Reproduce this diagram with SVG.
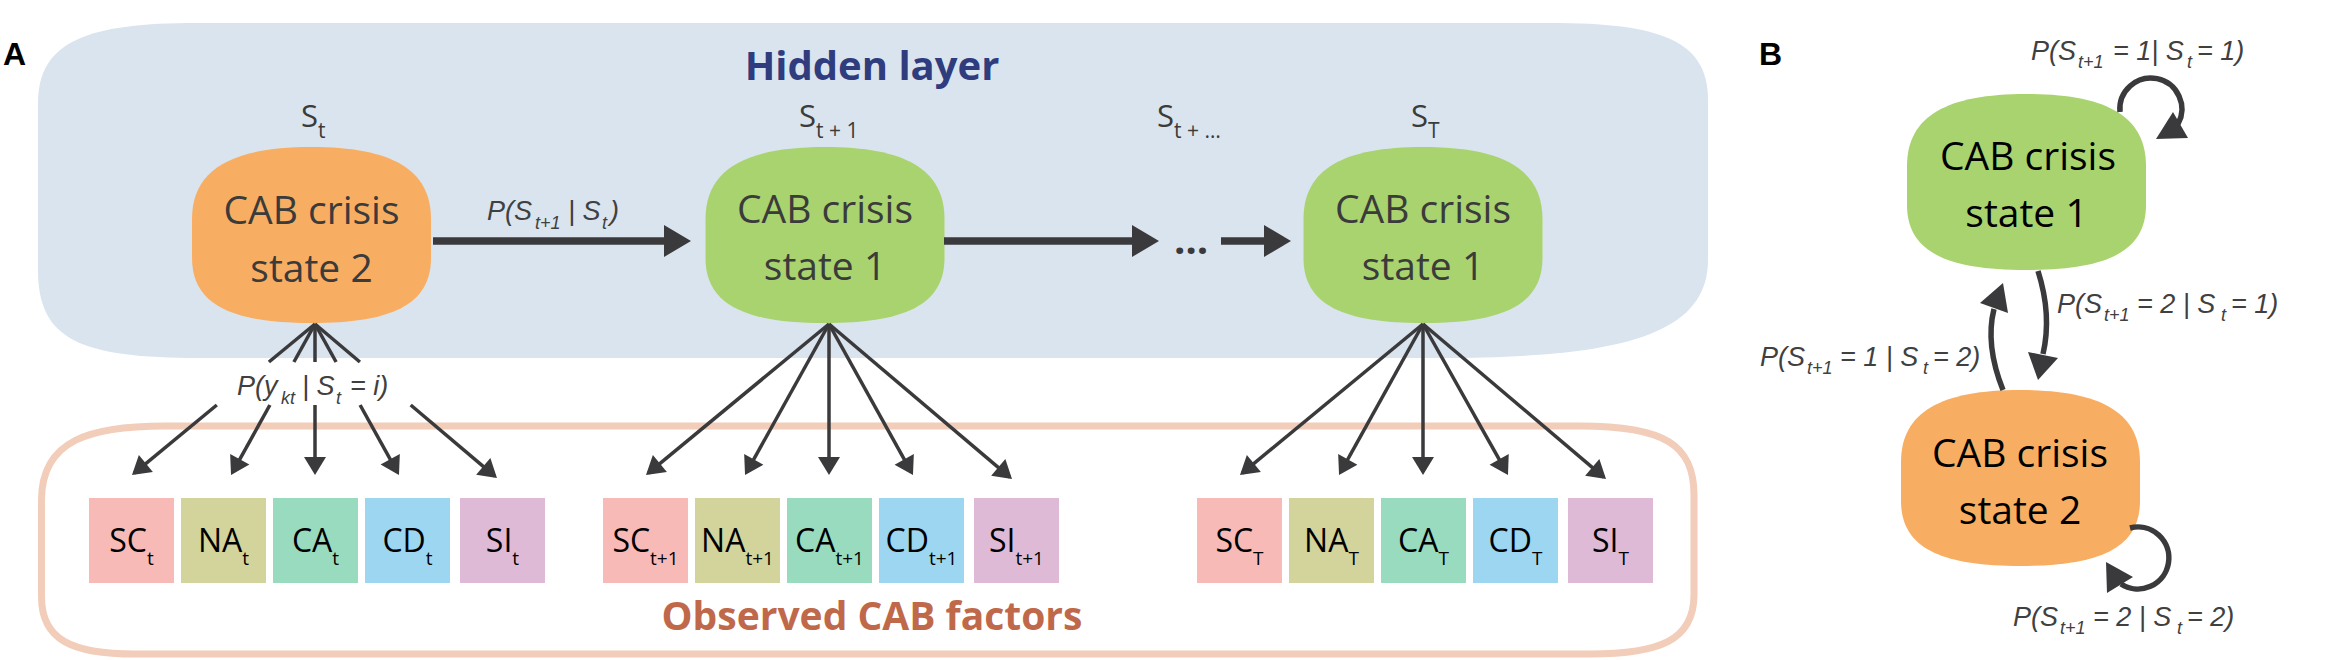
<svg xmlns="http://www.w3.org/2000/svg" xmlns:xlink="http://www.w3.org/1999/xlink" width="2343" height="660" viewBox="0 0 2343 660">
<style>
.panel{font-family:"Liberation Sans",Arial,sans-serif;font-weight:bold;font-size:32px;fill:#000}
.title{font-family:"Open Sans",sans-serif;font-weight:bold;font-size:40px;text-anchor:middle}
.nt{font-family:"Open Sans",sans-serif;font-size:39px;text-anchor:middle}
.ntA{fill:#3b3b3b}
.ntB{fill:#000}
.sl{font-family:"Open Sans",sans-serif;font-size:31px;fill:#3b3b3b}
.sls{font-size:21px}
.lab{font-family:"Liberation Sans",Arial,sans-serif;font-style:italic;font-size:27px;fill:#404040}
.sub{font-size:18px}
.bt{font-family:"Open Sans",sans-serif;font-size:32px;fill:#000;text-anchor:middle}
.bs{font-size:19px}
.fan{stroke:#3a3a3c;stroke-width:3.5;fill:none;marker-end:url(#smallHead)}
.main{stroke:#3a3a3c;stroke-width:7.5;fill:none;marker-end:url(#bigHead)}
.curve{stroke:#3a3a3c;stroke-width:5.5;fill:none}
.head{fill:#3a3a3c}
.sc{fill:#f8bab6}.na{fill:#d3d39c}.ca{fill:#99dbbe}.cd{fill:#9dd6f0}.si{fill:#dfbad7}
</style>
<defs>
<path id="blob" d="M0,72 C0,22 40,0 119.5,0 C199,0 239,22 239,72 L239,111 C239,158 199,176 119.5,176 C40,176 0,158 0,111 Z"/>
<marker id="bigHead" markerUnits="userSpaceOnUse" markerWidth="28" markerHeight="32" refX="6" refY="16" orient="auto" overflow="visible"><path d="M0,0 L27,16 L0,32 Z" fill="#3a3a3c"/></marker>
<marker id="smallHead" markerUnits="userSpaceOnUse" markerWidth="20" markerHeight="22" refX="15" refY="11" orient="auto" overflow="visible"><path d="M0,0 L18,11 L0,22 Z" fill="#3a3a3c"/></marker>
</defs>
<rect width="2343" height="660" fill="#fff"/>

<g id="panel-labels">
<text class="panel" x="3" y="65">A</text>
<text class="panel" x="1759" y="65">B</text>
</g>

<g id="hidden-layer">
<path d="M38,103 C38,40 90,23 197,23 L1550,23 C1660,23 1708,40 1708,100 L1708,260 C1708,335 1620,358 1440,358 L200,358 C80,358 38,340 38,270 Z" fill="#dae4ee"/>
<text class="title" x="872" y="80" fill="#2f3c7e">Hidden layer</text>
</g>

<g id="observed-layer">
<path d="M41.5,500 C41.5,440 90,426 165,426 L1580,426 C1665,426 1694,445 1694,495 L1694,595 C1694,640 1660,654 1590,654 L135,654 C72,654 41.5,640 41.5,597 Z" fill="none" stroke="#f2cdb9" stroke-width="7"/>
<text class="title" x="872" y="630" fill="#c0694a" style="font-size:39px">Observed CAB factors</text>
</g>

<g id="state-labels">
<text class="sl" x="301" y="127">S<tspan class="sls" dy="11">t</tspan></text>
<text class="sl" x="799" y="127">S<tspan class="sls" dy="11">t + 1</tspan></text>
<text class="sl" x="1157" y="127">S<tspan class="sls" dy="11">t + …</tspan></text>
<text class="sl" x="1411" y="127">S<tspan class="sls" dy="11">T</tspan></text>
</g>

<g id="node-A1">
<use xlink:href="#blob" x="192" y="147" fill="#f8ae62"/>
<text class="nt ntA" x="311.5" y="224">CAB crisis</text>
<text class="nt ntA" x="311.5" y="282">state 2</text>
</g>
<g id="node-A2">
<use xlink:href="#blob" x="705.5" y="147" fill="#a9d36e"/>
<text class="nt ntA" x="825" y="223">CAB crisis</text>
<text class="nt ntA" x="825" y="280">state 1</text>
</g>
<g id="node-A3">
<use xlink:href="#blob" x="1303.5" y="147" fill="#a9d36e"/>
<text class="nt ntA" x="1423" y="223">CAB crisis</text>
<text class="nt ntA" x="1423" y="280">state 1</text>
</g>

<g id="factors-t">
<rect class="sc" x="89" y="498" width="85" height="85"/>
<rect class="na" x="181" y="498" width="85" height="85"/>
<rect class="ca" x="273" y="498" width="85" height="85"/>
<rect class="cd" x="365" y="498" width="85" height="85"/>
<rect class="si" x="460" y="498" width="85" height="85"/>
<text class="bt" x="131.5" y="552">SC<tspan class="bs" dy="13">t</tspan></text>
<text class="bt" x="223.5" y="552">NA<tspan class="bs" dy="13">t</tspan></text>
<text class="bt" x="315.5" y="552">CA<tspan class="bs" dy="13">t</tspan></text>
<text class="bt" x="407.5" y="552">CD<tspan class="bs" dy="13">t</tspan></text>
<text class="bt" x="502.5" y="552">SI<tspan class="bs" dy="13">t</tspan></text>
</g>
<g id="factors-t1">
<rect class="sc" x="603" y="498" width="85" height="85"/>
<rect class="na" x="695" y="498" width="85" height="85"/>
<rect class="ca" x="787" y="498" width="85" height="85"/>
<rect class="cd" x="879" y="498" width="85" height="85"/>
<rect class="si" x="974" y="498" width="85" height="85"/>
<text class="bt" x="645.5" y="552">SC<tspan class="bs" dy="13">t+1</tspan></text>
<text class="bt" x="737.5" y="552">NA<tspan class="bs" dy="13">t+1</tspan></text>
<text class="bt" x="829.5" y="552">CA<tspan class="bs" dy="13">t+1</tspan></text>
<text class="bt" x="921.5" y="552">CD<tspan class="bs" dy="13">t+1</tspan></text>
<text class="bt" x="1016.5" y="552">SI<tspan class="bs" dy="13">t+1</tspan></text>
</g>
<g id="factors-T">
<rect class="sc" x="1197" y="498" width="85" height="85"/>
<rect class="na" x="1289" y="498" width="85" height="85"/>
<rect class="ca" x="1381" y="498" width="85" height="85"/>
<rect class="cd" x="1473" y="498" width="85" height="85"/>
<rect class="si" x="1568" y="498" width="85" height="85"/>
<text class="bt" x="1239.5" y="552">SC<tspan class="bs" dy="13">T</tspan></text>
<text class="bt" x="1331.5" y="552">NA<tspan class="bs" dy="13">T</tspan></text>
<text class="bt" x="1423.5" y="552">CA<tspan class="bs" dy="13">T</tspan></text>
<text class="bt" x="1515.5" y="552">CD<tspan class="bs" dy="13">T</tspan></text>
<text class="bt" x="1610.5" y="552">SI<tspan class="bs" dy="13">T</tspan></text>
</g>

<g id="node-B1">
<use xlink:href="#blob" x="1907" y="94" fill="#a9d36e"/>
<text class="nt ntB" x="2028" y="170">CAB crisis</text>
<text class="nt ntB" x="2026.5" y="227">state 1</text>
</g>
<g id="node-B2">
<use xlink:href="#blob" x="1901" y="390" fill="#f8ae62"/>
<text class="nt ntB" x="2020" y="467">CAB crisis</text>
<text class="nt ntB" x="2020" y="524">state 2</text>
</g>

<g id="connectors">
<line class="main" x1="433" y1="241" x2="670" y2="241"/>
<line class="main" x1="944" y1="241" x2="1138" y2="241"/>
<line class="main" x1="1221" y1="241" x2="1270" y2="241"/>
<text x="1191" y="254" text-anchor="middle" style="font-family:'Open Sans',sans-serif;font-weight:bold;font-size:40px;fill:#3a3a3c">…</text>
<text class="lab" y="220"><tspan x="487">P(S</tspan><tspan class="sub" x="535" dy="9">t+1</tspan><tspan x="568" dy="-9">| S</tspan><tspan class="sub" x="602" dy="9">t</tspan><tspan x="610" dy="-9">)</tspan></text>

<line x1="315" y1="324" x2="268.9" y2="362" stroke="#3a3a3c" stroke-width="3.5"/>
<line x1="315" y1="324" x2="293.9" y2="362" stroke="#3a3a3c" stroke-width="3.5"/>
<line x1="315" y1="324" x2="315" y2="362" stroke="#3a3a3c" stroke-width="3.5"/>
<line x1="315" y1="324" x2="336.1" y2="362" stroke="#3a3a3c" stroke-width="3.5"/>
<line x1="315" y1="324" x2="359.9" y2="362" stroke="#3a3a3c" stroke-width="3.5"/>
<line class="fan" x1="216.8" y1="405" x2="134.3" y2="473.1"/>
<line class="fan" x1="269.9" y1="405" x2="232.5" y2="472.4"/>
<line class="fan" x1="315" y1="405" x2="315" y2="472"/>
<line class="fan" x1="360.1" y1="405" x2="397.5" y2="472.4"/>
<line class="fan" x1="410.7" y1="405" x2="494.7" y2="476.1"/>
<text class="lab" y="395"><tspan x="237">P(y</tspan><tspan class="sub" x="281" dy="9">kt</tspan><tspan x="302" dy="-9">| S</tspan><tspan class="sub" x="336" dy="9">t</tspan><tspan x="350" dy="-9">= i)</tspan></text>

<line class="fan" x1="829" y1="324" x2="648.3" y2="473.1"/>
<line class="fan" x1="829" y1="324" x2="746.5" y2="472.4"/>
<line class="fan" x1="829" y1="324" x2="829" y2="472"/>
<line class="fan" x1="829" y1="324" x2="911.5" y2="472.4"/>
<line class="fan" x1="829" y1="324" x2="1009.7" y2="477.1"/>

<line class="fan" x1="1423" y1="324" x2="1242.3" y2="473.1"/>
<line class="fan" x1="1423" y1="324" x2="1340.5" y2="472.4"/>
<line class="fan" x1="1423" y1="324" x2="1423" y2="472"/>
<line class="fan" x1="1423" y1="324" x2="1506.5" y2="472.4"/>
<line class="fan" x1="1423" y1="324" x2="1603.7" y2="477.1"/>

<path class="curve" d="M2120,112 A31,31 0 1 1 2178,124"/>
<polygon class="head" points="2173,112 2188,138 2156,139"/>
<path class="curve" d="M2038,271 Q2052,315 2043,354"/>
<polygon class="head" points="2028,352 2058,358 2038,380"/>
<path class="curve" d="M2003,390 Q1985,345 1994,309"/>
<polygon class="head" points="1980,303 2008,313 2003,283"/>
<path class="curve" d="M2130,528 A31,31 0 1 1 2121,584"/>
<polygon class="head" points="2106,562 2107,593 2133,577"/>

<text class="lab" y="60"><tspan x="2031">P(S</tspan><tspan class="sub" x="2078" dy="8">t+1</tspan><tspan x="2113" dy="-8">= 1| S</tspan><tspan class="sub" x="2187" dy="8">t</tspan><tspan x="2197" dy="-8">= 1)</tspan></text>
<text class="lab" y="313"><tspan x="2057">P(S</tspan><tspan class="sub" x="2104" dy="8">t+1</tspan><tspan x="2137" dy="-8">= 2 | S</tspan><tspan class="sub" x="2221" dy="8">t</tspan><tspan x="2231" dy="-8">= 1)</tspan></text>
<text class="lab" y="366"><tspan x="1760">P(S</tspan><tspan class="sub" x="1807" dy="8">t+1</tspan><tspan x="1840" dy="-8">= 1 | S</tspan><tspan class="sub" x="1923" dy="8">t</tspan><tspan x="1933" dy="-8">= 2)</tspan></text>
<text class="lab" y="626"><tspan x="2013">P(S</tspan><tspan class="sub" x="2060" dy="8">t+1</tspan><tspan x="2093" dy="-8">= 2 | S</tspan><tspan class="sub" x="2177" dy="8">t</tspan><tspan x="2187" dy="-8">= 2)</tspan></text>
</g>
</svg>
